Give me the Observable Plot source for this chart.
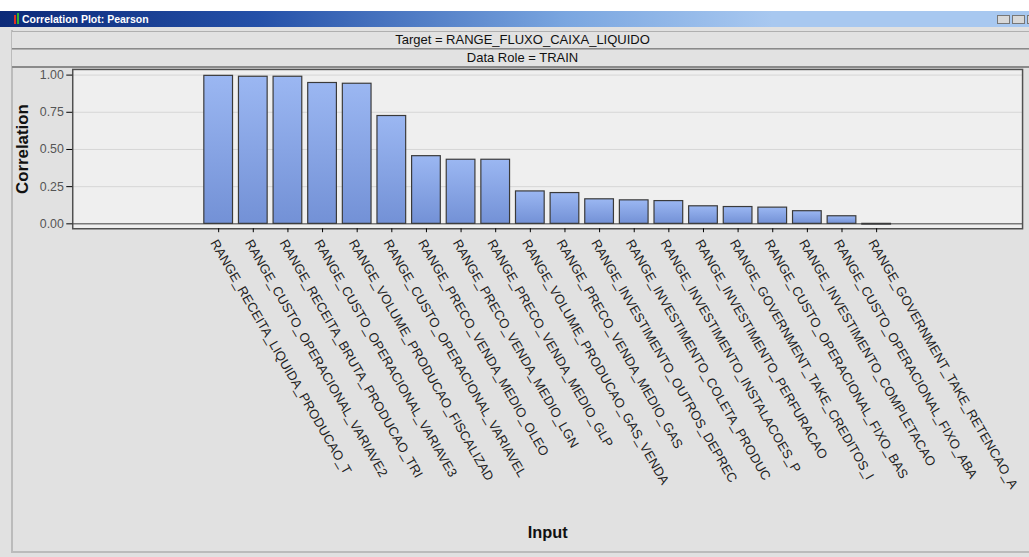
<!DOCTYPE html>
<html><head><meta charset="utf-8">
<script src="https://cdn.jsdelivr.net/npm/d3@7"></script>
<script src="https://cdn.jsdelivr.net/npm/@observablehq/plot@0.6"></script>
<style>
body{margin:0;width:1029px;height:557px;overflow:hidden;background:#fff;font-family:"Liberation Sans",Arial,sans-serif;position:relative}
#titlebar{position:absolute;left:0;top:11px;width:1029px;height:16px;background:linear-gradient(to right,#0c2a78 0%,#2450a8 25%,#7aa6e0 55%,#a8c8f0 75%,#a8c8f0 100%)}
#titlebar .t{position:absolute;left:22px;top:2px;color:#fff;font:bold 10.5px "Liberation Sans",Arial,sans-serif}
#titlebar .ic{position:absolute;left:14px;top:4px;width:2px;height:9px;background:#e03020}
#titlebar .ic2{position:absolute;left:17px;top:2px;width:2px;height:11px;background:#30b030}
#titlebar .btn{position:absolute;top:4px;width:13px;height:9px;background:#d8d8d8;border:1px solid #777;box-sizing:border-box}
#win{position:absolute;left:0;top:27px;width:1029px;height:530px;background:#e1e1e1}
#winborder{position:absolute;left:11px;top:30px;width:1030px;height:523px;border-left:2px solid #bbb;border-bottom:2px solid #bbb;box-sizing:border-box}
.row{position:absolute;left:12px;width:1021px;height:16px;border-top:1px solid #b0b0b0;border-bottom:2px solid #8a8a8a;box-sizing:content-box;text-align:center;font-size:13px;line-height:16px;color:#111;background:#e2e2e2}
#r1{top:31px}
#r2{top:49px}
#chart{position:absolute;left:0;top:65px}
</style></head>
<body>
<div id="titlebar"><div class="ic"></div><div class="ic2"></div><div class="t">Correlation Plot: Pearson</div>
<div class="btn" style="left:997px"></div><div class="btn" style="left:1012px"></div><div class="btn" style="left:1027px"></div></div>
<div id="win"></div>
<div id="winborder"></div>
<div class="row" id="r1">Target = RANGE_FLUXO_CAIXA_LIQUIDO</div>
<div class="row" id="r2">Data Role = TRAIN</div>
<div id="chart"></div>
<script>
const inputs = [
  "RANGE_RECEITA_LIQUIDA_PRODUCAO_T",
  "RANGE_CUSTO_OPERACIONAL_VARIAVE2",
  "RANGE_RECEITA_BRUTA_PRODUCAO_TRI",
  "RANGE_CUSTO_OPERACIONAL_VARIAVE3",
  "RANGE_VOLUME_PRODUCAO_FISCALIZAD",
  "RANGE_CUSTO_OPERACIONAL_VARIAVEL",
  "RANGE_PRECO_VENDA_MEDIO_OLEO",
  "RANGE_PRECO_VENDA_MEDIO_LGN",
  "RANGE_PRECO_VENDA_MEDIO_GLP",
  "RANGE_VOLUME_PRODUCAO_GAS_VENDA",
  "RANGE_PRECO_VENDA_MEDIO_GAS",
  "RANGE_INVESTIMENTO_OUTROS_DEPREC",
  "RANGE_INVESTIMENTO_COLETA_PRODUC",
  "RANGE_INVESTIMENTO_INSTALACOES_P",
  "RANGE_INVESTIMENTO_PERFURACAO",
  "RANGE_GOVERNMENT_TAKE_CREDITOS_I",
  "RANGE_CUSTO_OPERACIONAL_FIXO_BAS",
  "RANGE_INVESTIMENTO_COMPLETACAO",
  "RANGE_CUSTO_OPERACIONAL_FIXO_ABA",
  "RANGE_GOVERNMENT_TAKE_RETENCAO_A"
];
const correlations = [0.995, 0.989, 0.989, 0.947, 0.942, 0.725, 0.455, 0.431, 0.431, 0.218, 0.207, 0.165, 0.158, 0.153, 0.118, 0.113, 0.109, 0.085, 0.051, -0.005];
const yTicks = [0, 0.25, 0.5, 0.75, 1];

const data = inputs.map((name, i) => ({name, value: correlations[i]}));

const defs = () => {
  const d = d3.create("svg:defs");
  const g = d.append("linearGradient").attr("id", "barGrad").attr("x1", 0).attr("y1", 0).attr("x2", 0).attr("y2", 1);
  g.append("stop").attr("offset", "0%").attr("stop-color", "#9bb7f2");
  g.append("stop").attr("offset", "100%").attr("stop-color", "#7391d6");
  return d.node();
};

const chart = Plot.plot({
  width: 1040,
  height: 490,
  marginLeft: 73,
  marginRight: 7,
  marginTop: 4,
  marginBottom: 325,
  style: {background: "transparent", fontFamily: "'Liberation Sans', Arial, sans-serif", fontSize: "12px"},
  x: {domain: inputs, inset: 125, paddingInner: 0.18, paddingOuter: 0.1, label: null},
  y: {domain: [-0.033, 1.038], label: null},
  marks: [
    defs,
    Plot.frame({fill: "#efefef", stroke: null}),
    Plot.ruleY(yTicks.slice(1), {stroke: "#d6d6d6", strokeWidth: 1}),
    Plot.ruleY([0], {stroke: "#7a7a7a", strokeWidth: 1.5}),
    Plot.barY(data, {x: "name", y: "value", fill: "url(#barGrad)", stroke: "#3a3a3a", strokeWidth: 1.2}),
    Plot.frame({stroke: "#505050", strokeWidth: 1.5}),
    Plot.axisY({ticks: yTicks, tickFormat: d3.format(".2f"), tickSize: 6, tickPadding: 3, fill: "#555", fontSize: 12.5, label: null}),
    Plot.axisX({tickSize: 4, tickFormat: () => "", label: null}),
    Plot.axisX({tickRotate: 60, tickSize: 0, tickPadding: 6, dx: -5, dy: 6, fontSize: 13.3, fill: "#222", label: null}),
    Plot.text(["Correlation"], {frameAnchor: "left", dx: -51, rotate: -90, textAnchor: "middle", fontWeight: "bold", fontSize: 17, fill: "#111"}),
    Plot.text(["Input"], {frameAnchor: "bottom", dy: 313, textAnchor: "middle", fontWeight: "bold", fontSize: 16.5, fill: "#111"})
  ]
});
document.getElementById("chart").appendChild(chart);
</script>
</body></html>
